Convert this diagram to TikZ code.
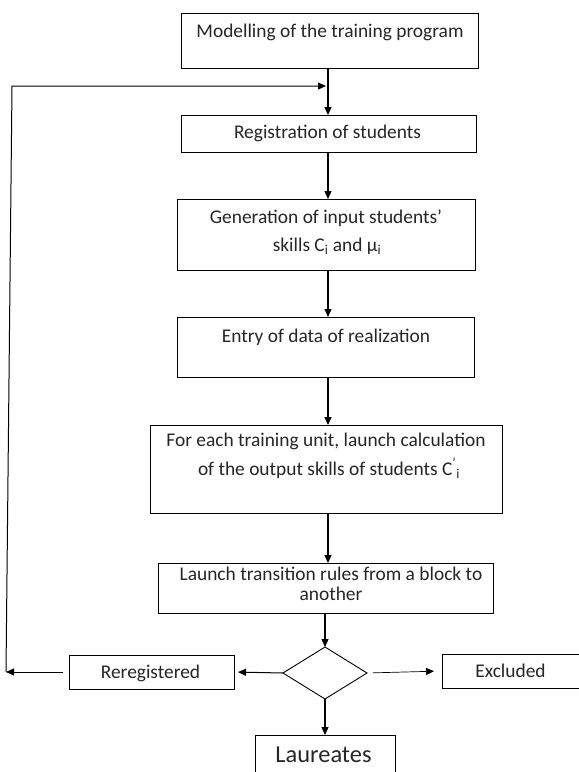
\documentclass[tikz,border=0pt]{standalone}
\usepackage{fontspec}
\setmainfont{Carlito}
\usetikzlibrary{arrows.meta,shapes.geometric}
\definecolor{ink}{HTML}{262626}
\begin{document}
\begin{tikzpicture}[x=1pt,y=-1pt,
  box/.style={draw=black, line width=1pt, inner sep=0pt, outer sep=0pt, rectangle},
  txt/.style={font=\fontsize{19.4pt}{23pt}\selectfont, text=ink, inner sep=0pt, anchor=base},
  arr/.style={line width=1.2pt, -{Triangle[length=8pt,width=7pt]}},
  thinarr/.style={line width=0.7pt, -{Triangle[length=8pt,width=7pt]}}]
\useasboundingbox (0,0) rectangle (579,772);
\clip (0,0) rectangle (579,772);
\fill[white] (0,0) rectangle (579,772);
% boxes
\node[box, minimum width=297pt, minimum height=55pt] (b1) at (329.5,40.5) {};
\node[box, minimum width=295pt, minimum height=37pt] (b2) at (328.5,133.5) {};
\node[box, minimum width=298pt, minimum height=71pt] (b3) at (326,234.5) {};
\node[box, minimum width=297pt, minimum height=60pt] (b4) at (325.5,347) {};
\node[box, minimum width=352pt, minimum height=88pt] (b5) at (326,469) {};
\node[box, minimum width=335pt, minimum height=50pt] (b6) at (325.5,588) {};
\node[draw=black, line width=0.9pt, diamond, inner sep=0pt, outer sep=0pt,
      minimum width=84pt, minimum height=52pt] (d) at (325,673) {};
\node[box, minimum width=165pt, minimum height=34pt] (rr) at (151.5,672) {};
\node[box, minimum width=158pt, minimum height=34pt] (ex) at (521,671) {};
\node[box, minimum width=140pt, minimum height=65pt] (la) at (325,767.5) {};
% texts
\node[txt] (t1) at (330,37) {Modelling of the training program};
\node[txt] (t2) at (327.5,138) {Registration of students};
\node[txt] (t3a) at (326,223) {Generation of input students’};
\node[txt] (t3b) at (327,251) {skills C\textsubscript{i} and µ\textsubscript{i}};
\node[txt] (t4) at (326,342) {Entry of data of realization};
\node[txt] (t5a) at (326,446) {For each training unit, launch calculation};
\node[txt] (t5b) at (329,475) {of the output skills of students C\textsuperscript{’}\textsubscript{i}};
\node[txt] (t6a) at (331,580) {Launch transition rules from a block to};
\node[txt] (t6b) at (331,600) {another};
\node[txt] (tr) at (150.5,678) {Reregistered};
\node[txt] (te) at (510.5,677) {Excluded};
\node[txt, font=\fontsize{24.4pt}{28pt}\selectfont] (tl) at (323.5,762) {Laureates};
% connectors
\coordinate (ax) at (328,0);
\draw[arr] (b1.south -| ax) -- (b2.north -| ax);
\draw[arr] (b2.south -| ax) -- (b3.north -| ax);
\draw[arr] (b3.south -| ax) -- (b4.north -| ax);
\draw[arr] (b4.south -| ax) -- (b5.north -| ax);
\draw[arr] (b5.south -| ax) -- (b6.north -| ax);
\draw[arr] (b6.south -| d.north) -- (d.north);
\draw[arr] (d.south) -- (la.north);
\draw[arr, line width=1pt, shorten >=4pt] (d.west) -- (rr.east);
\draw[thinarr, shorten <=6pt, shorten >=8pt] (d.east) -- (ex.west);
\coordinate (cA) at (6,672);
\coordinate (cT) at (12,86);
\coordinate (cB) at (326,86);
\draw[arr, line width=1pt, shorten <=6pt] (rr.west) -- (cA);
\draw[arr, line width=1pt] (cA) -- (cT) -- (cB);
\end{tikzpicture}
\end{document}
